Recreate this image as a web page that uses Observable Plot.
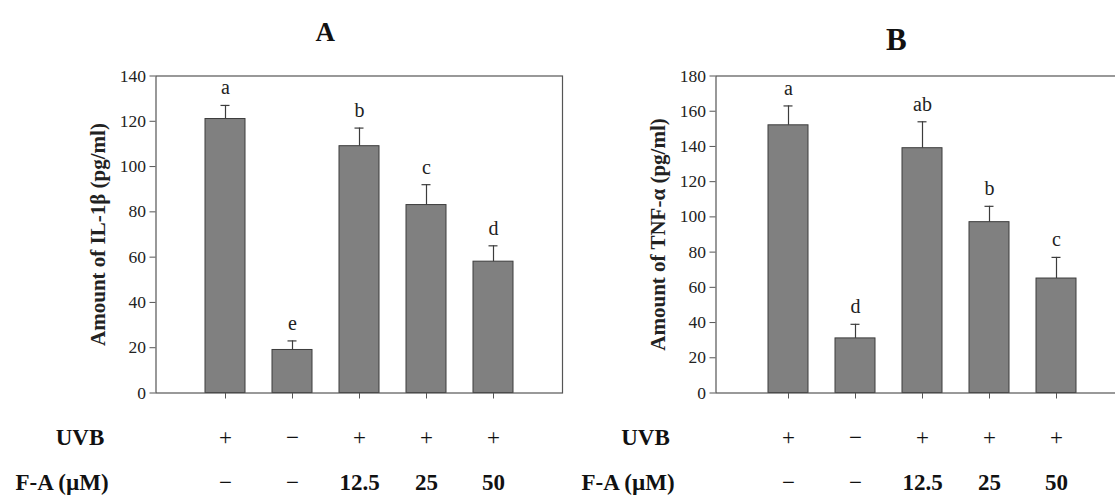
<!DOCTYPE html>
<html>
<head>
<meta charset="utf-8">
<script src="https://cdn.jsdelivr.net/npm/d3@7"></script>
<script src="https://cdn.jsdelivr.net/npm/@observablehq/plot@0.6"></script>
<style>
  html, body { margin: 0; padding: 0; background: #fff; overflow: hidden; }
  #wrap { position: relative; width: 1115px; height: 496px; overflow: hidden; }
  #wrap svg { position: absolute; top: 0; overflow: visible; }
</style>
</head>
<body>
<div id="wrap"></div>
<script>
// ---- data ----
const groups = ["UVB", "Control", "UVB+F-A 12.5", "UVB+F-A 25", "UVB+F-A 50"];
const uvbRow = ["+", "\u2212", "+", "+", "+"];
const faRow = ["\u2212", "\u2212", "12.5", "25", "50"];

const il1bMean = [121, 19, 109, 83, 58];
const il1bSD = [6, 4, 8, 9, 7];
const il1bLetters = ["a", "e", "b", "c", "d"];
const il1bTicks = [0, 20, 40, 60, 80, 100, 120, 140];

const tnfMean = [152, 31, 139, 97, 65];
const tnfSD = [11, 8, 15, 9, 12];
const tnfLetters = ["a", "d", "ab", "b", "c"];
const tnfTicks = [0, 20, 40, 60, 80, 100, 120, 140, 160, 180];

const SERIF = "'Liberation Serif', 'Times New Roman', serif";

function panel(cfg) {
  const rows = groups.map((g, i) => ({
    g, v: cfg.mean[i], top: cfg.mean[i] + cfg.sd[i], letter: cfg.letters[i],
    uvb: uvbRow[i], fa: faRow[i]
  }));
  const ticks = cfg.ticks;
  return Plot.plot({
    width: cfg.width,
    height: 496,
    marginTop: 75.5,
    marginBottom: 103.5,
    marginLeft: 155.5,
    marginRight: 18,
    style: { fontFamily: SERIF, fontSize: "17px", color: "#222", background: "transparent", overflow: "visible" },
    x: { domain: groups, paddingInner: 0.4, paddingOuter: cfg.paddingOuter, align: 0.5 },
    y: { domain: [ticks[0], ticks[ticks.length - 1]] },
    marks: [
      Plot.axisY({ ticks: ticks, tickSize: 6, tickFormat: () => "", label: null, stroke: "#555" }),
      Plot.text(ticks, { y: d => d, frameAnchor: "left", text: d => String(d), dx: -10, textAnchor: "end", lineAnchor: "middle", fontSize: 17.5, fontFamily: SERIF, fill: "#222" }),
      Plot.axisX({ tickSize: 6, tickFormat: () => "", label: null, stroke: "#555" }),
      Plot.barY(rows, { x: "g", y: "v", fill: "#808080", stroke: "#3c3c3c", strokeWidth: 1 }),
      Plot.ruleX(rows, { x: "g", y1: "v", y2: "top", stroke: "#3c3c3c", strokeWidth: 1.2 }),
      Plot.tickY(rows, { x: "g", y: "top", inset: 15.5, stroke: "#3c3c3c", strokeWidth: 1.2 }),
      Plot.text(rows, { x: "g", y: "top", text: "letter", lineAnchor: "bottom", dy: -11, fontSize: 20, fontFamily: SERIF, fill: "#222" }),
      Plot.frame({ stroke: "#555", strokeWidth: 1.2 }),
      // panel title
      Plot.text([cfg.title], { frameAnchor: "top", text: d => d, dx: cfg.titleDx, dy: cfg.titleDy, lineAnchor: "middle", fontSize: cfg.titleSize, fontWeight: "bold", fontFamily: SERIF, fill: "#111" }),
      // y label
      Plot.text([cfg.yLabel], { frameAnchor: "left", text: d => d, rotate: -90, dx: -57.5, lineAnchor: "middle", textAnchor: "middle", fontSize: 21, fontWeight: "bold", fontFamily: SERIF, fill: "#222" }),
      // treatment rows
      Plot.text(["UVB"], { frameAnchor: "bottom-left", text: d => d, dx: cfg.uvbDx, dy: 44.5, lineAnchor: "middle", textAnchor: "middle", fontSize: 23, fontWeight: "bold", fontFamily: SERIF, fill: "#111" }),
      Plot.text(["F-A (\u00b5M)"], { frameAnchor: "bottom-left", text: d => d, dx: cfg.faDx, dy: 90, lineAnchor: "middle", textAnchor: "middle", fontSize: 23, fontWeight: "bold", fontFamily: SERIF, fill: "#111" }),
      Plot.text(rows, { x: "g", frameAnchor: "bottom", text: "uvb", dy: 44.5, lineAnchor: "middle", fontSize: 23, fontFamily: SERIF, fill: "#111" }),
      Plot.text(rows.filter(d => d.fa === "\u2212"), { x: "g", frameAnchor: "bottom", text: "fa", dy: 90, lineAnchor: "middle", fontSize: 23, fontFamily: SERIF, fill: "#111" }),
      Plot.text(rows.filter(d => d.fa !== "\u2212"), { x: "g", frameAnchor: "bottom", text: "fa", dy: 90, lineAnchor: "middle", fontSize: 23, fontWeight: "bold", fontFamily: SERIF, fill: "#111" })
    ]
  });
}

const wrap = document.getElementById("wrap");

const a = panel({
  mean: il1bMean, sd: il1bSD, letters: il1bLetters, ticks: il1bTicks,
  title: "A", yLabel: "Amount of IL-1\u03b2 (pg/ml)",
  width: 580, paddingOuter: 0.7,
  titleDx: -34, titleDy: -43.5, titleSize: 27,
  uvbDx: -76, faDx: -94
});
a.style.left = "0px";
wrap.appendChild(a);

const b = panel({
  mean: tnfMean, sd: tnfSD, letters: tnfLetters, ticks: tnfTicks,
  title: "B", yLabel: "Amount of TNF-\u03b1 (pg/ml)",
  width: 587, paddingOuter: 0.76,
  titleDx: -26.5, titleDy: -36, titleSize: 31,
  uvbDx: -70.5, faDx: -88
});
b.style.left = "560px";
wrap.appendChild(b);
</script>
</body>
</html>
